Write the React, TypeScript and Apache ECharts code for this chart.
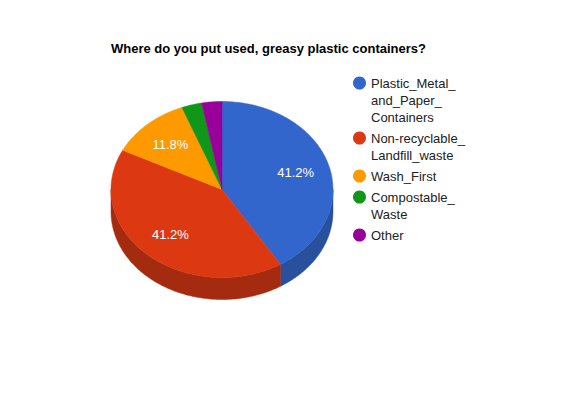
import React, { useEffect, useRef } from "react";
import * as echarts from "echarts";

const TITLE = "Where do you put used, greasy plastic containers?";
const CATEGORIES = [
  "Plastic_Metal_and_Paper_Containers",
  "Non-recyclable_Landfill_waste",
  "Wash_First",
  "Compostable_Waste",
  "Other",
];
const LEGEND_LABELS = [
  "Plastic_Metal_\nand_Paper_\nContainers",
  "Non-recyclable_\nLandfill_waste",
  "Wash_First",
  "Compostable_\nWaste",
  "Other",
];
const VALUES = [14, 14, 4, 1, 1];
const COLORS = ["#3366cc", "#dc3912", "#ff9900", "#109618", "#990099"];
const SIDE_COLORS = ["#28509c", "#a52b10", "#bf7300", "#0c7112", "#730073"];

const FONT = "Arial, 'Liberation Sans', sans-serif";
const CX = 222;
const CY = 189.5;
const RX = 111;
const RY = 88;
const DEPTH = 22;
const LINE_H = 17;
const LEGEND_FIRST_Y = 83;
const LEGEND_ITEM_GAP = 4;

const TOTAL = VALUES.reduce((a, b) => a + b, 0);

function sliceAngles(i: number): [number, number] {
  let start = -90;
  for (let j = 0; j < i; j++) start += (VALUES[j] / TOTAL) * 360;
  return [start, start + (VALUES[i] / TOTAL) * 360];
}

const rad = (d: number) => (d * Math.PI) / 180;

function arc(s: number, e: number, dy = 0): number[][] {
  const n = Math.max(2, Math.ceil(e - s));
  const pts: number[][] = [];
  for (let k = 0; k <= n; k++) {
    const a = rad(s + ((e - s) * k) / n);
    pts.push([CX + RX * Math.cos(a), CY + dy + RY * Math.sin(a)]);
  }
  return pts;
}

function makeRenderItem(i: number) {
  return (params: any, api: any) => {
    const v = api.value(0) as number;
    const [a0, a1] = sliceAngles(i);
    const children: any[] = [];
    const top = [[CX, CY], ...arc(a0, a1)];
    children.push({
      type: "polygon",
      z2: 10,
      shape: { points: top },
      style: { fill: COLORS[i], stroke: COLORS[i], lineWidth: 0.5 },
    });
    const ranges = [
      [-360, -180],
      [0, 180],
      [360, 540],
    ];
    for (const [lo, hi] of ranges) {
      const s = Math.max(a0, lo);
      const e = Math.min(a1, hi);
      if (e > s) {
        const pts = [...arc(s, e), ...arc(s, e, DEPTH).reverse()];
        children.push({
          type: "polygon",
          z2: 1,
          shape: { points: pts },
          style: { fill: SIDE_COLORS[i], stroke: SIDE_COLORS[i], lineWidth: 0.5 },
        });
      }
    }
    if (v / TOTAL >= 0.05) {
      const mid = rad((a0 + a1) / 2);
      children.push({
        type: "text",
        z2: 20,
        x: CX + 0.69 * RX * Math.cos(mid),
        y: CY + 0.69 * RY * Math.sin(mid),
        style: {
          text: ((v / TOTAL) * 100).toFixed(1) + "%",
          fill: "#ffffff",
          fontSize: 13,
          fontFamily: FONT,
          align: "center",
          verticalAlign: "middle",
        },
      });
    }
    return { type: "group", children };
  };
}

function buildLegends() {
  const legends: any[] = [];
  let center = LEGEND_FIRST_Y;
  CATEGORIES.forEach((name, i) => {
    const lines = LEGEND_LABELS[i].split("\n");
    const L = lines.length;
    // blank lines above keep the first line level with the icon
    const padded = [...Array(L - 1).fill(" "), ...lines].join("\n");
    legends.push({
      orient: "vertical",
      left: 353,
      top: center - 8.5 * (2 * L - 1),
      padding: 0,
      icon: "circle",
      itemWidth: 13,
      itemHeight: 13,
      selectedMode: false,
      data: [name],
      formatter: () => padded,
      textStyle: {
        fontSize: 13,
        lineHeight: LINE_H,
        color: "#222222",
        fontFamily: FONT,
      },
    });
    center += LINE_H * L + LEGEND_ITEM_GAP;
  });
  return legends;
}

export default function App() {
  const ref = useRef<HTMLDivElement>(null);
  useEffect(() => {
    if (!ref.current) return;
    const chart = echarts.init(ref.current, undefined, { renderer: "svg" });
    const option: any = {
      animation: false,
      backgroundColor: "#ffffff",
      title: {
        text: TITLE,
        left: 111,
        top: 42,
        padding: 0,
        textStyle: { fontSize: 13, fontWeight: "bold", color: "#000000", fontFamily: FONT },
      },
      legend: buildLegends(),
      series: CATEGORIES.map((name, i) => ({
        type: "custom",
        name,
        coordinateSystem: "none",
        itemStyle: { color: COLORS[i] },
        data: [[VALUES[i]]],
        renderItem: makeRenderItem(i),
      })),
    };
    chart.setOption(option);
    return () => chart.dispose();
  }, []);
  return (
    <div
      ref={ref}
      style={{ position: "fixed", left: 0, top: 0, width: 580, height: 400 }}
    />
  );
}
